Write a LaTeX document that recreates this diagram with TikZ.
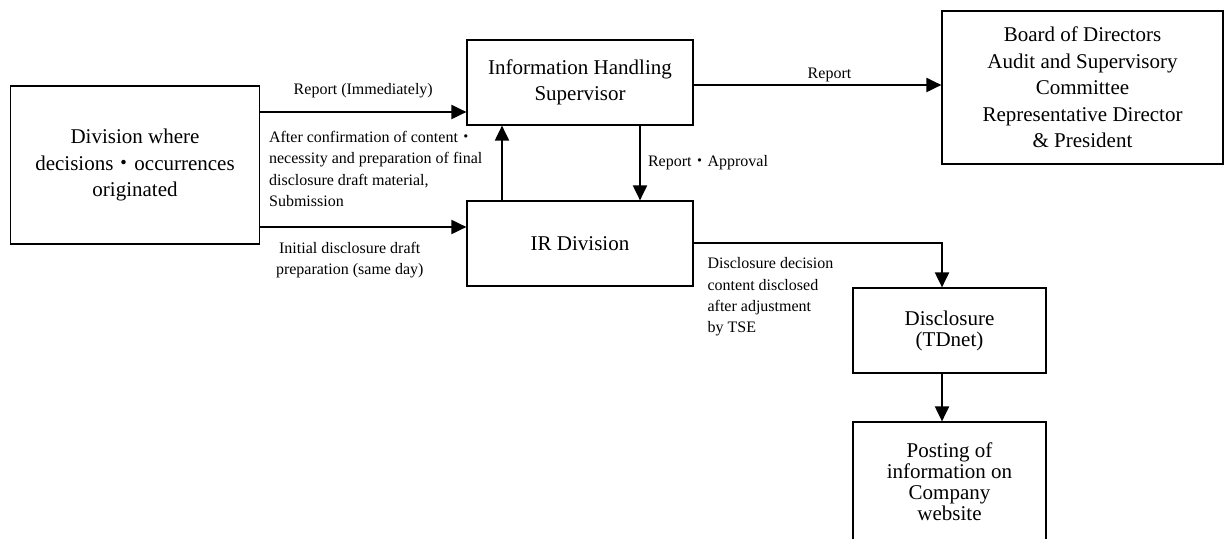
\documentclass[tikz,border=0pt]{standalone}
\usepackage{fontspec}
\setmainfont{Liberation Serif}
\newfontfamily\cjk{Noto Sans CJK JP}
\usetikzlibrary{arrows.meta}
\newcommand{\nakaguro}{{\cjk ・}}

\begin{document}
\begin{tikzpicture}[x=0.5pt,y=-0.5pt,
		box/.style={draw,line width=0.6pt,inner sep=0pt,align=center,font=\fontsize{10.5}{13.25}\selectfont},
		tbox/.style={box,font=\fontsize{10.5}{10.5}\selectfont},
		arr/.style={line width=1pt,-{Triangle[length=7.5pt,width=7pt]}},
		lbl/.style={inner sep=0pt,font=\fontsize{8}{10.7}\selectfont}]
		\useasboundingbox (0,0) rectangle (1225,539);
		\node[box,minimum width=124.5pt,minimum height=79pt] (div) at (135,165) {Division where\\decisions\nakaguro occurrences\\originated};
		\node[box,minimum width=113pt,minimum height=42.5pt] (ihs) at (580,82.5) {Information Handling\\Supervisor};
		\node[box,minimum width=113pt,minimum height=42.5pt] (ir) at (580,243.5) {IR Division};
		\node[box,minimum width=140.5pt,minimum height=76.5pt] (board) at (1082.5,87.5) {Board of Directors\\Audit and Supervisory\\Committee\\Representative Director\\\& President};
		\node[tbox,minimum width=96.5pt,minimum height=42.5pt] (disc) at (949.5,330.5) {Disclosure\\(TDnet)};
		\node[tbox,minimum width=96.5pt,minimum height=60pt] (post) at (949.5,482) {Posting of\\information on\\Company\\website};
		{
		\draw[arr] (div.east |- 0,112) --node[lbl,anchor=base,yshift=8.5pt]{Report (Immediately)} node[lbl,pos=0,anchor=north west,xshift=4pt,yshift=-9pt,align=left]{After confirmation of content\nakaguro\\necessity and preparation of final\\disclosure draft material,\\Submission} (ihs.west |- 0,112);
		\draw[arr] (div.east |- 0,227) --node[lbl,anchor=north,xshift=-6.75pt,yshift=-7pt,align=center]{Initial disclosure draft\\preparation (same day)} (ir.west |- 0,227);
		\draw[arr] (ir.north -| 502,0) -- (ihs.south -| 502,0);
		\draw[arr] (ihs.south -| 640,0) --node[lbl,anchor=west,xshift=3.5pt]{Report\nakaguro Approval} (ir.north -| 640,0);
		\draw[arr] (ihs.east |- 0,85) --node[lbl,anchor=base,xshift=6pt,yshift=3pt]{Report} (board.west |- 0,85);
		\draw[arr] (ir.east) node[lbl,anchor=north west,xshift=6.5pt,yshift=-6.5pt,align=left]{Disclosure decision\\content disclosed\\after adjustment\\by TSE} -| (disc.north -| 942,0);
		\draw[arr] (disc.south -| 942,0) -- (post.north -| 942,0);}
\end{tikzpicture}
\end{document}
